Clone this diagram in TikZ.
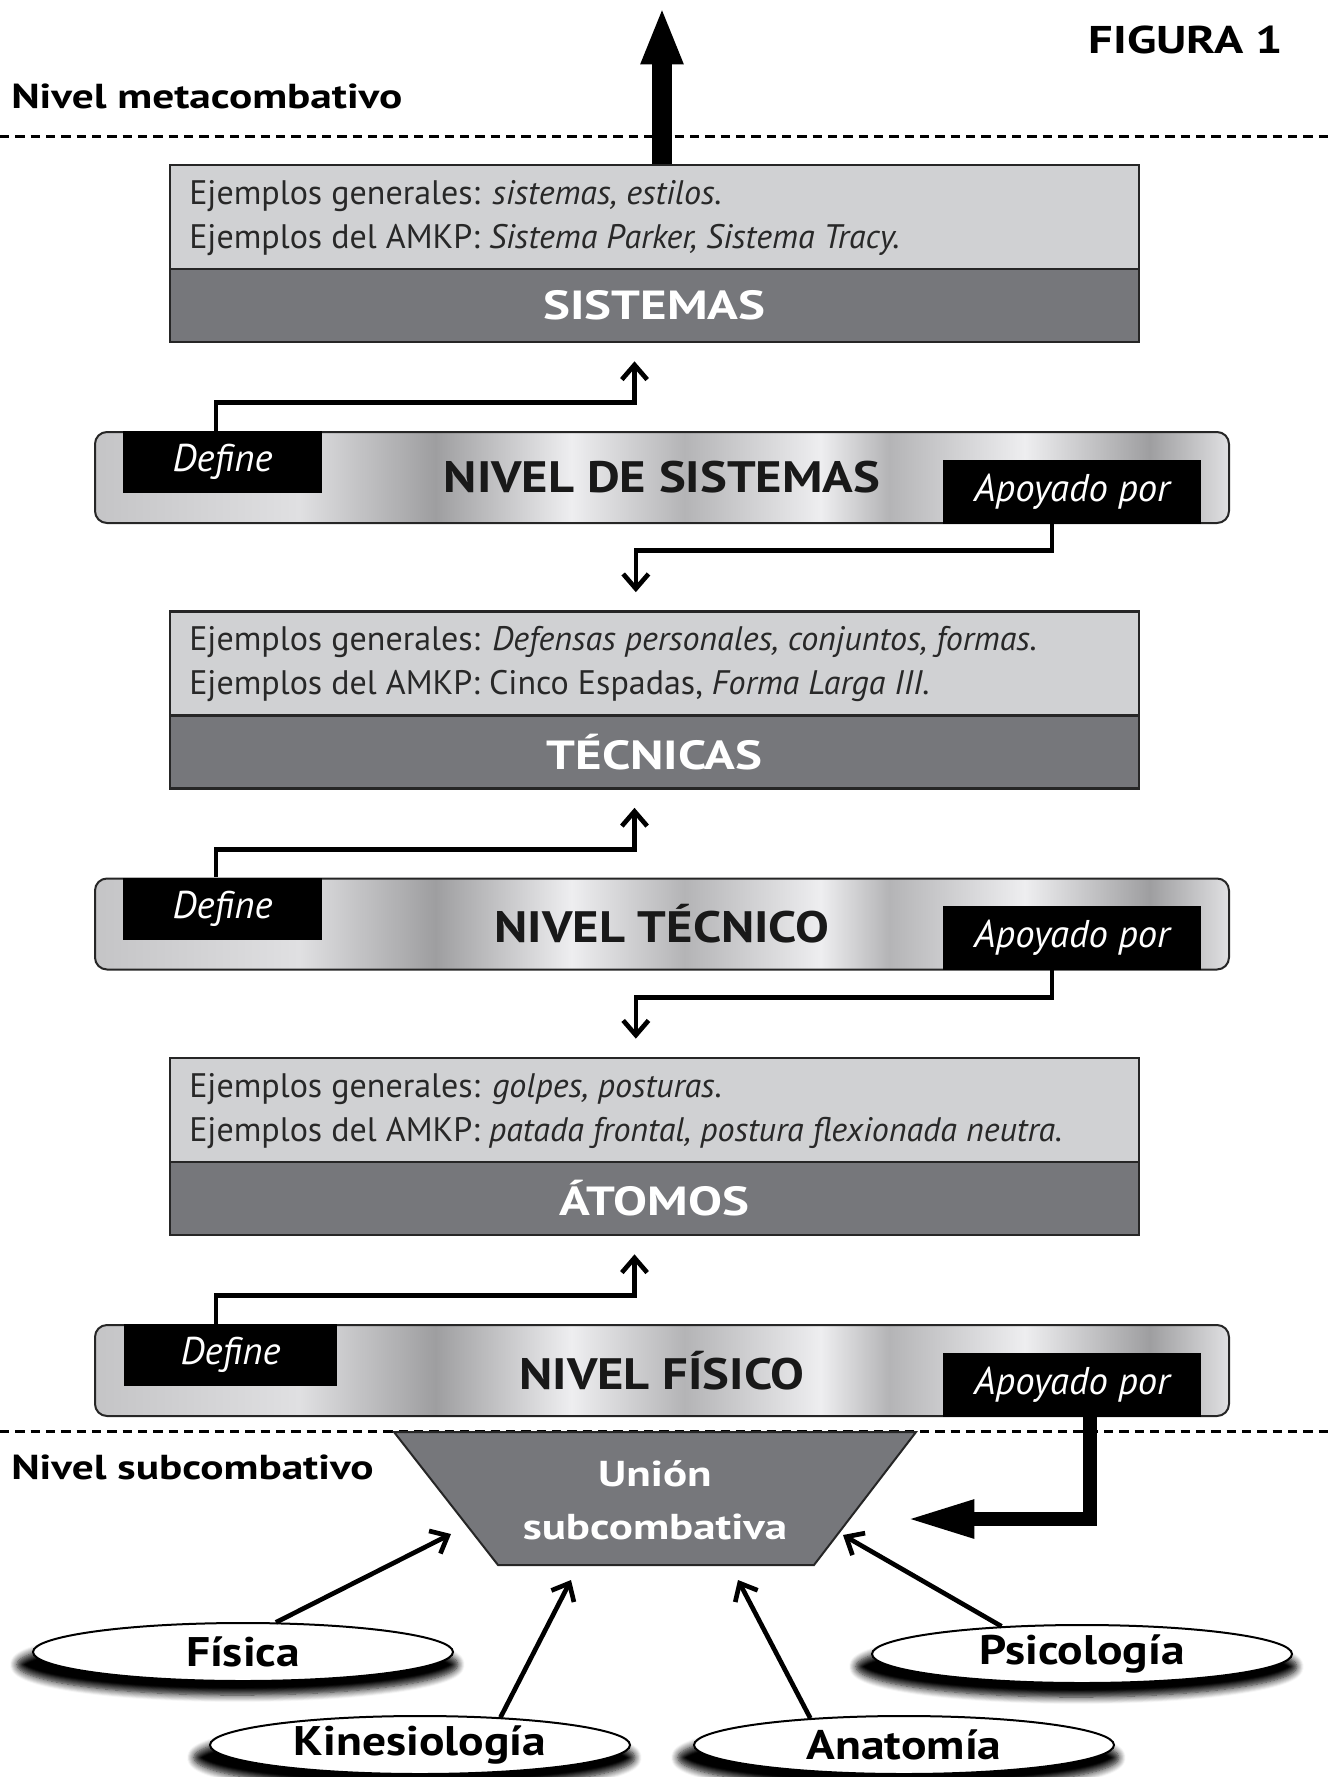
\documentclass[tikz,border=0pt]{standalone}
\usepackage{fontspec}
\setmainfont{PT Sans}
\newfontfamily\widefont[FakeStretch=1.15]{PT Sans}
\newfontfamily\widerfont[FakeStretch=1.25]{PT Sans}
\usetikzlibrary{arrows.meta,shapes.geometric,shadows.blur}

\definecolor{boxlight}{RGB}{208,209,211}
\definecolor{boxdark}{RGB}{118,119,123}
\definecolor{textgray}{RGB}{40,40,40}
\definecolor{metalA}{RGB}{196,196,198}
\definecolor{metalB}{RGB}{224,224,226}
\definecolor{metalC}{RGB}{158,158,160}
\definecolor{metalD}{RGB}{238,238,240}
\definecolor{metalE}{RGB}{180,180,182}

\pgfdeclarehorizontalshading{metal}{100bp}{color(0bp)=(metalA); color(25bp)=(metalA);
  color(34bp)=(metalB); color(40bp)=(metalC); color(46bp)=(metalD); color(51bp)=(metalE);
  color(57bp)=(metalD); color(60bp)=(metalE); color(66bp)=(metalD); color(71.5bp)=(metalC);
  color(75bp)=(metalB); color(100bp)=(metalB)}

\begin{document}
\begin{tikzpicture}[x=0.75pt,y=0.75pt,yscale=-1,xscale=1,
  infobox/.style={draw=black!85,line width=2pt,fill=boxlight,minimum width=726.75pt,minimum height=78pt,inner sep=0pt},
  headbox/.style={draw=black!85,line width=2pt,fill=boxdark,minimum width=726.75pt,minimum height=54.75pt,inner sep=0pt,text=white,font=\widerfont\bfseries\fontsize{30.5}{36}\selectfont},
  levelbar/.style={draw=black!85,line width=1.5pt,rounded corners=9pt,shading=metal,minimum width=850.5pt,minimum height=68.25pt,inner sep=0pt,text=black!90,font=\widefont\bfseries\fontsize{33}{38}\selectfont},
  tagbox/.style={fill=black,text=white,inner sep=0pt,font=\itshape\fontsize{29}{34}\selectfont},
  infoline/.style={anchor=base west,inner sep=0pt,text=textgray,font=\fontsize{25.5}{30}\selectfont},
  fieldoval/.style={ellipse,draw,line width=1.5pt,fill=white,minimum width=315pt,minimum height=43.5pt,inner sep=0pt,
    font=\widefont\bfseries\fontsize{31}{36}\selectfont,
    blur shadow={shadow xshift=-4pt,shadow yshift=-9pt,shadow scale=1.05,shadow opacity=100,shadow blur steps=8,shadow blur radius=5pt}},
  linkarrow/.style={line width=3.5pt,-{Straight Barb[length=11pt,width=19pt]}},
  bigarrow/.style={line width=15pt,-{Triangle[length=43pt,width=29pt]}},
  feedarrow/.style={line width=11pt,-{Triangle[length=52pt,width=26pt]}},
  levelline/.style={line width=2.25pt,dash pattern=on 7pt off 4.5pt}]

\useasboundingbox (0,0) rectangle (1333,1777);

%Straight Lines (dashed)
\draw[levelline] (0,136) -- (1333,136);
\draw[levelline] (0,1431) -- (1333,1431);

% Text Node
\node[anchor=west,inner sep=0pt,font=\widerfont\bfseries\fontsize{26}{30}\selectfont] (meta) at (11,96) {Nivel metacombativo};
\node[inner sep=0pt,font=\widerfont\bfseries\fontsize{29}{34}\selectfont] (figura) at (1186,40) {FIGURA 1};
\node[anchor=west,inner sep=0pt,font=\widerfont\bfseries\fontsize{26}{30}\selectfont] (subc) at (11,1467) {Nivel subcombativo};

%Shape: Rectangle (sistemas)
\node[infobox] (sisInfo) at (654.5,217) {};
\node[headbox] (sisHead) at (654.5,305.5) {SISTEMAS};
\node[infoline] (sisLine1) at (189,204) {Ejemplos generales: \textit{sistemas, estilos.}};
\node[infoline] (sisLine2) at (189,248) {Ejemplos del AMKP: \textit{Sistema Parker, Sistema Tracy.}};

%Shape: Rectangle (tecnicas)
\node[infobox] (tecInfo) at (654.5,663.5) {};
\node[headbox] (tecHead) at (654.5,752) {TÉCNICAS};
\node[infoline] (tecLine1) at (189,650) {Ejemplos generales: \textit{Defensas personales, conjuntos, formas.}};
\node[infoline] (tecLine2) at (189,694) {Ejemplos del AMKP: Cinco Espadas, \textit{Forma Larga III.}};

%Shape: Rectangle (atomos)
\node[infobox] (atoInfo) at (654.5,1110) {};
\node[headbox] (atoHead) at (654.5,1198.5) {ÁTOMOS};
\node[infoline] (atoLine1) at (189,1097) {Ejemplos generales: \textit{golpes, posturas.}};
\node[infoline] (atoLine2) at (189,1141) {Ejemplos del AMKP: \textit{patada frontal, postura flexionada neutra.}};

%Shape: Rounded Rect (levels)
\node[levelbar] (nivSis) at (662,477.5) {NIVEL DE SISTEMAS};
\node[tagbox,minimum width=149.25pt,minimum height=46.5pt] (defSis) at (222.5,462) {Define};
\node[tagbox,minimum width=193.5pt,minimum height=48pt] (apoSis) at (1072,491.5) {Apoyado por};

\node[levelbar] (nivTec) at (662,924) {NIVEL TÉCNICO};
\node[tagbox,minimum width=149.25pt,minimum height=46.5pt] (defTec) at (222.5,908.5) {Define};
\node[tagbox,minimum width=193.5pt,minimum height=48pt] (apoTec) at (1072,938) {Apoyado por};

\node[levelbar] (nivFis) at (662,1370.5) {NIVEL FÍSICO};
\node[tagbox,minimum width=160pt,minimum height=46.5pt] (defFis) at (230.5,1355) {Define};
\node[tagbox,minimum width=193.5pt,minimum height=48pt] (apoFis) at (1072,1384.5) {Apoyado por};

%Shape: Trapezoid
\draw[draw=black!85,line width=1.5pt,fill=boxdark] (394,1432) -- (916,1432) -- (814,1565) -- (498,1565) -- cycle;
\node[align=center,inner sep=0pt,text=white,font=\widerfont\bfseries\fontsize{27}{40}\selectfont] (union) at (655,1500) {Unión\\subcombativa};

%Shape: Ellipse
\node[fieldoval] (fis) at (243,1652) {Física};
\node[fieldoval] (psi) at (1082,1654) {Psicología};
\node[fieldoval] (kin) at (420,1745) {Kinesiología};
\node[fieldoval] (ana) at (904,1745) {Anatomía};

\coordinate (sky) at (662,7);
\coordinate (uFis) at (451,1534);
\coordinate (uKin) at (571,1580);
\coordinate (uAna) at (738,1580);
\coordinate (uPsi) at (843,1535);
\coordinate (uApo) at (905,1519);

%Straight Lines
\draw[bigarrow] (sky |- sisInfo.north) -- (sky);
\draw[linkarrow,shorten >=13.5pt] ([xshift=-5pt]defSis.north) -- ++(0,-28) -| ([xshift=-15pt]sisHead.south);
\draw[linkarrow,shorten >=13.5pt] ([xshift=-15pt]apoSis.south) -- ++(0,27) -| ([xshift=-14pt]tecInfo.north);
\draw[linkarrow,shorten >=13.5pt] ([xshift=-5pt]defTec.north) -- ++(0,-28) -| ([xshift=-15pt]tecHead.south);
\draw[linkarrow,shorten >=13.5pt] ([xshift=-15pt]apoTec.south) -- ++(0,27) -| ([xshift=-14pt]atoInfo.north);
\draw[linkarrow,shorten >=13.5pt] ([xshift=-11pt]defFis.north) -- ++(0,-28) -| ([xshift=-15pt]atoHead.south);
\draw[feedarrow] ([xshift=13.5pt]apoFis.south) |- (uApo);

\draw[linkarrow] (fis.42) -- (uFis);
\draw[linkarrow] (kin.19) -- (uKin);
\draw[linkarrow] (ana.164) -- (uAna);
\draw[linkarrow] (psi.161) -- (uPsi);

\end{tikzpicture}
\end{document}
